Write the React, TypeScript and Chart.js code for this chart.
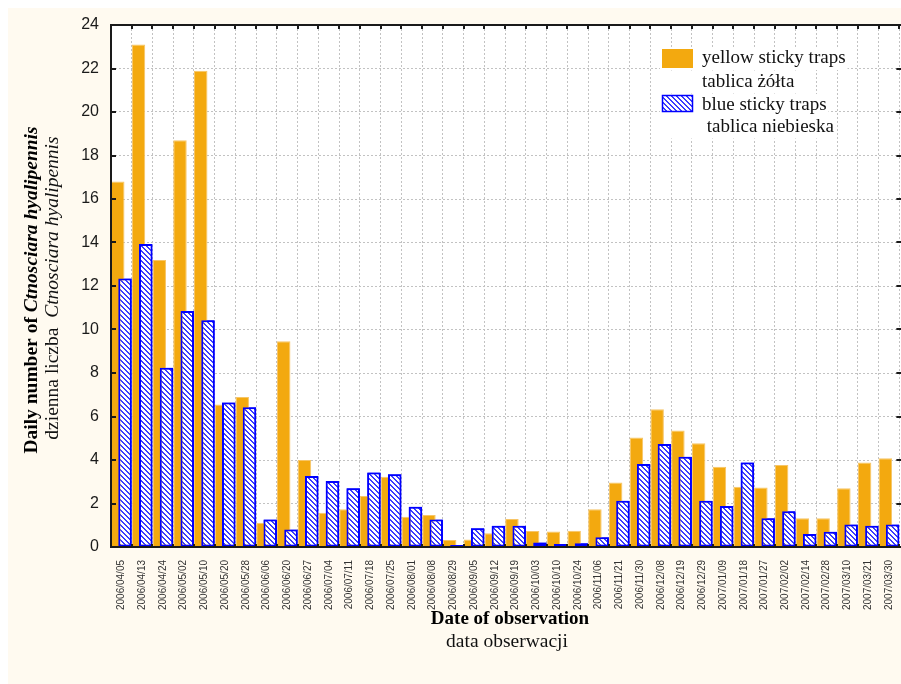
import React, { useEffect, useRef } from 'react';
import { Chart, registerables } from 'chart.js';

Chart.register(...registerables);

const dates = [
  '2006/04/05', '2006/04/13', '2006/04/24', '2006/05/02', '2006/05/10', '2006/05/20',
  '2006/05/28', '2006/06/06', '2006/06/20', '2006/06/27', '2006/07/04', '2006/07/11',
  '2006/07/18', '2006/07/25', '2006/08/01', '2006/08/08', '2006/08/29', '2006/09/05',
  '2006/09/12', '2006/09/19', '2006/10/03', '2006/10/10', '2006/10/24', '2006/11/06',
  '2006/11/21', '2006/11/30', '2006/12/08', '2006/12/19', '2006/12/29', '2007/01/09',
  '2007/01/18', '2007/01/27', '2007/02/02', '2007/02/14', '2007/02/28', '2007/03/10',
  '2007/03/21', '2007/03/30',
];

const yellowTraps = [
  16.8, 23.1, 13.2, 18.7, 21.9, 6.55, 6.9, 1.12, 9.46, 4.0, 1.58, 1.73,
  2.34, 3.23, 1.39, 1.47, 0.32, 0.35, 0.63, 1.29, 0.74, 0.71, 0.75, 1.73,
  2.97, 5.04, 6.33, 5.36, 4.77, 3.69, 2.77, 2.74, 3.77, 1.32, 1.32, 2.7,
  3.88, 4.08,
];

const blueTraps = [
  12.35, 13.93, 8.24, 10.85, 10.42, 6.64, 6.42, 1.27, 0.81, 3.26, 3.03, 2.7,
  3.42, 3.34, 1.85, 1.27, 0.09, 0.86, 0.98, 0.98, 0.21, 0.14, 0.17, 0.45,
  2.13, 3.82, 4.74, 4.15, 2.13, 1.89, 3.88, 1.32, 1.64, 0.6, 0.7, 1.03,
  0.98, 1.04,
];

const Y_MIN = 0;
const Y_MAX = 24;
const Y_STEP = 2;

const legendLines = [
  { text: 'yellow sticky traps', swatch: 'yellow' },
  { text: 'tablica żółta', swatch: '' },
  { text: 'blue sticky traps', swatch: 'blue' },
  { text: ' tablica niebieska', swatch: '' },
];

const SERIF = '"Liberation Serif", "Times New Roman", serif';
const SANS = '"Liberation Sans", Arial, sans-serif';
const YELLOW = '#f3a90f';
const BLUE = '#0000ff';

function makeHatch(): CanvasPattern | string {
  const s = 5;
  const c = document.createElement('canvas');
  c.width = s;
  c.height = s;
  const g = c.getContext('2d');
  if (!g) return '#8080ff';
  g.fillStyle = '#ffffff';
  g.fillRect(0, 0, s, s);
  g.fillStyle = '#3c3cff';
  for (let y = 0; y < s; y++) {
    for (let x = 0; x < s; x++) {
      const d = (((x - y) % s) + s) % s;
      if (d < 2) g.fillRect(x, y, 1, 1);
    }
  }
  return g.createPattern(c, 'repeat') || '#8080ff';
}

function drawMixed(ctx: CanvasRenderingContext2D, parts: { t: string; f: string }[], cx: number, cy: number) {
  let total = 0;
  for (const p of parts) {
    ctx.font = p.f;
    total += ctx.measureText(p.t).width;
  }
  let x = cx - total / 2;
  ctx.textAlign = 'left';
  ctx.textBaseline = 'middle';
  for (const p of parts) {
    ctx.font = p.f;
    ctx.fillText(p.t, x, cy);
    x += ctx.measureText(p.t).width;
  }
}

export default function App() {
  const ref = useRef<HTMLCanvasElement | null>(null);

  useEffect(() => {
    const canvas = ref.current;
    if (!canvas) return;
    const hatch = makeHatch();

    const decor = {
      id: 'decor',
      beforeDraw(chart: any) {
        const { ctx, chartArea: a } = chart;
        ctx.save();
        ctx.fillStyle = '#ffffff';
        ctx.fillRect(a.left, a.top, a.right - a.left + 2, a.bottom - a.top);
        ctx.restore();
      },
      afterDatasetsDraw(chart: any) {
        // keep blue bars on top of yellow ones
        const meta = chart.getDatasetMeta(1);
        if (meta && meta.controller) meta.controller.draw();
      },
      afterDraw(chart: any) {
        const { ctx, chartArea: a, scales } = chart;
        const xs = scales.x;
        const ys = scales.y;
        ctx.save();
        ctx.strokeStyle = '#1a1a1a';
        ctx.lineWidth = 2;
        ctx.setLineDash([]);
        ctx.beginPath();
        ctx.moveTo(a.left, a.bottom + 1);
        ctx.lineTo(a.left, a.top);
        ctx.lineTo(a.right + 2, a.top);
        ctx.moveTo(a.left - 1, a.bottom);
        ctx.lineTo(a.right + 2, a.bottom);
        ctx.stroke();

        // y tick marks (inside, left and right)
        ctx.beginPath();
        for (let v = Y_MIN; v <= Y_MAX; v += Y_STEP) {
          const py = Math.round(ys.getPixelForValue(v));
          ctx.moveTo(a.left, py);
          ctx.lineTo(a.left + 5, py);
          ctx.moveTo(a.right - 3, py);
          ctx.lineTo(a.right + 2, py);
        }
        ctx.stroke();

        // category boundary marks (top and bottom)
        ctx.beginPath();
        for (let i = 0; i <= dates.length; i++) {
          const px = Math.round(xs.getPixelForValue(i - 0.5));
          ctx.moveTo(px, a.top);
          ctx.lineTo(px, a.top + 4);
          ctx.moveTo(px, a.bottom);
          ctx.lineTo(px, a.bottom - 3);
        }
        ctx.stroke();

        // legend
        const lineY = [55, 78.5, 102, 123.5];
        ctx.font = `19px ${SERIF}`;
        ctx.textAlign = 'left';
        ctx.textBaseline = 'alphabetic';
        legendLines.forEach((l, i) => {
          const w = ctx.measureText(l.text).width;
          ctx.fillStyle = '#ffffff';
          ctx.fillRect(652, lineY[i] - 16, 694 + w + 2 - 652, 23);
        });
        legendLines.forEach((l, i) => {
          if (l.swatch === 'yellow') {
            ctx.fillStyle = YELLOW;
            ctx.fillRect(654, 41, 31, 19);
          } else if (l.swatch === 'blue') {
            ctx.fillStyle = hatch as any;
            ctx.fillRect(654, 87, 31, 17);
            ctx.strokeStyle = BLUE;
            ctx.lineWidth = 1.5;
            ctx.strokeRect(654.5, 87.5, 30, 16);
          }
          ctx.fillStyle = '#111';
          ctx.fillText(l.text, 694, lineY[i]);
        });

        // y axis title
        ctx.save();
        ctx.translate(24, 282);
        ctx.rotate(-Math.PI / 2);
        ctx.fillStyle = '#000';
        drawMixed(ctx, [
          { t: 'Daily number of ', f: `bold 19.5px ${SERIF}` },
          { t: 'Ctnosciara hyalipennis', f: `italic bold 19.5px ${SERIF}` },
        ], 0, 0);
        ctx.restore();
        ctx.save();
        ctx.translate(45, 280);
        ctx.rotate(-Math.PI / 2);
        ctx.fillStyle = '#111';
        drawMixed(ctx, [
          { t: 'dzienna liczba  ', f: `19.5px ${SERIF}` },
          { t: 'Ctnosciara hyalipennis', f: `italic 19.5px ${SERIF}` },
        ], 0, 0);
        ctx.restore();

        // x axis title
        ctx.fillStyle = '#000';
        ctx.textAlign = 'center';
        ctx.textBaseline = 'middle';
        ctx.font = `bold 19px ${SERIF}`;
        ctx.fillText('Date of observation', 502, 611);
        ctx.fillStyle = '#111';
        ctx.font = `19.5px ${SERIF}`;
        ctx.fillText('data obserwacji', 499, 634);
        ctx.restore();
      },
    };

    const chart = new Chart(canvas, {
      type: 'bar',
      data: {
        labels: dates,
        datasets: [
          {
            label: 'yellow sticky traps',
            data: yellowTraps,
            backgroundColor: YELLOW,
            borderColor: '#f7c566',
            borderWidth: 1,
            borderSkipped: 'bottom',
            categoryPercentage: 0.7,
            barPercentage: 1.857,
          },
          {
            label: 'blue sticky traps',
            data: blueTraps,
            backgroundColor: hatch as any,
            borderColor: BLUE,
            borderWidth: 2,
            borderSkipped: false,
            categoryPercentage: 0.7,
            barPercentage: 1.857,
          },
        ],
      },
      options: {
        responsive: false,
        animation: false,
        devicePixelRatio: 1,
        layout: { padding: { top: 17, right: 1, left: 0, bottom: 0 } },
        plugins: {
          legend: { display: false },
          tooltip: { enabled: false },
          title: { display: false },
        },
        scales: {
          x: {
            type: 'category',
            offset: true,
            grid: {
              offset: true,
              color: '#c2c2c2',
              lineWidth: 1,
              drawTicks: true,
              tickLength: 13,
              tickColor: 'rgba(0,0,0,0)',
            },
            border: { display: false, dash: [2, 2] },
            ticks: {
              autoSkip: false,
              minRotation: 90,
              maxRotation: 90,
              padding: 0,
              color: '#333',
              font: { family: SANS, size: 10 },
            },
            afterFit(s: any) {
              s.height = 137;
            },
          },
          y: {
            min: Y_MIN,
            max: Y_MAX,
            grid: {
              color: '#c2c2c2',
              lineWidth: 1,
              drawTicks: true,
              tickLength: 12,
              tickColor: 'rgba(0,0,0,0)',
            },
            border: { display: false, dash: [2, 2] },
            ticks: {
              stepSize: Y_STEP,
              padding: 0,
              color: '#1a1a1a',
              font: { family: SANS, size: 16 },
            },
            afterFit(s: any) {
              s.width = 103;
            },
          },
        },
      } as any,
      plugins: [decor],
    });

    return () => chart.destroy();
  }, []);

  return (
    <div
      style={{
        position: 'absolute',
        left: 8,
        top: 8,
        width: 893,
        height: 676,
        background: '#fffaf0',
      }}
    >
      <canvas ref={ref} width={893} height={676} style={{ display: 'block', width: 893, height: 676 }} />
    </div>
  );
}
